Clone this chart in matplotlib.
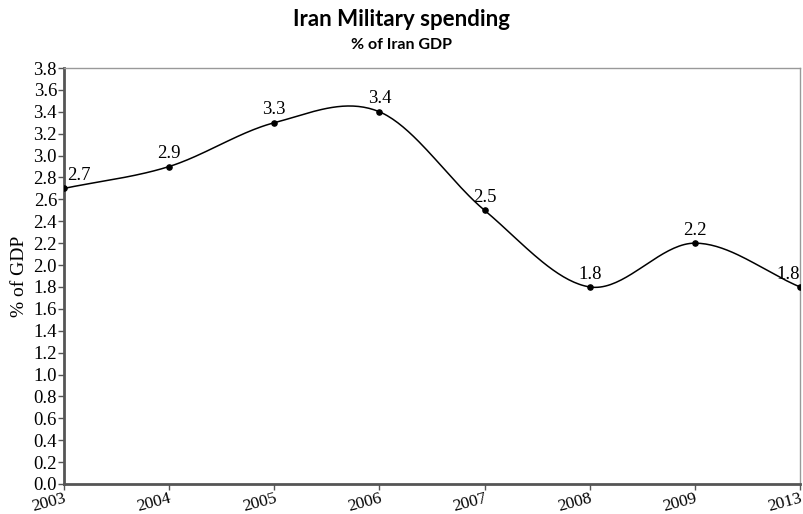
import numpy as np
import matplotlib
matplotlib.use("Agg")
import matplotlib.pyplot as plt

years = ["2003", "2004", "2005", "2006", "2007", "2008", "2009", "2013"]
spending = [2.7, 2.9, 3.3, 3.4, 2.5, 1.8, 2.2, 1.8]
y_ticks = [round(0.2 * i, 1) for i in range(20)]

SERIF = ["Liberation Serif", "DejaVu Serif"]
SANS = ["Lato", "Open Sans", "DejaVu Sans"]
plt.rcParams["font.family"] = SERIF


def catmull_rom(y, steps=40):
    # smooth curve through equally spaced points (cardinal spline, tension 0)
    y = np.asarray(y, dtype=float)
    n = len(y)
    m = np.zeros(n)
    m[1:-1] = (y[2:] - y[:-2]) / 2
    m[0] = y[1] - y[0]
    m[-1] = y[-1] - y[-2]
    xs, ys = [], []
    for i in range(n - 1):
        t = np.linspace(0, 1, steps, endpoint=(i == n - 2))
        h00 = 2 * t**3 - 3 * t**2 + 1
        h10 = t**3 - 2 * t**2 + t
        h01 = -2 * t**3 + 3 * t**2
        h11 = t**3 - t**2
        xs.append(i + t)
        ys.append(h00 * y[i] + h10 * m[i] + h01 * y[i + 1] + h11 * m[i + 1])
    return np.concatenate(xs), np.concatenate(ys)


fig = plt.figure(figsize=(8.04, 5.14), dpi=100)
ax = fig.add_axes([0.0796, 0.0584, 0.9154, 0.8093])

x = np.arange(len(years))
cx, cy = catmull_rom(spending)
ax.plot(cx, cy, color="black", linewidth=1.1, zorder=2)
ax.scatter(x, spending, s=14, color="black", zorder=3)

for i, v in enumerate(spending):
    if i == 0:
        ha, dx = "left", 0.03
    elif i == len(spending) - 1:
        ha, dx = "right", 0.0
    else:
        ha, dx = "center", 0.0
    ax.text(x[i] + dx, v + 0.04, f"{v:.1f}", ha=ha, va="bottom", fontsize=13.5)

ax.set_xlim(0, len(years) - 1)
ax.set_ylim(0, 3.8)
ax.set_xticks(x)
ax.set_xticklabels(years, rotation=15, ha="right", rotation_mode="anchor", fontsize=12.5)
ax.set_yticks(y_ticks)
ax.set_yticklabels([f"{t:.1f}" for t in y_ticks], fontsize=13.5)
ax.tick_params(axis="both", direction="out", length=4, width=1, colors="#555555")
ax.tick_params(axis="x", pad=0.5)
ax.tick_params(axis="y", pad=1)
ax.tick_params(axis="both", labelcolor="black")

for side in ("left", "bottom"):
    ax.spines[side].set_color("#555555")
    ax.spines[side].set_linewidth(2)
for side in ("top", "right"):
    ax.spines[side].set_color("#999999")
    ax.spines[side].set_linewidth(1)

ax.set_ylabel("% of GDP", fontsize=14, labelpad=4)

fig.text(0.5, 0.962, "Iran Military spending", ha="center", va="center",
         fontsize=16, fontweight="bold", family=SANS)
fig.text(0.5, 0.913, "% of Iran GDP", ha="center", va="center",
         fontsize=11.5, fontweight="bold", family=SANS)

fig.savefig("out.png", dpi=100)
